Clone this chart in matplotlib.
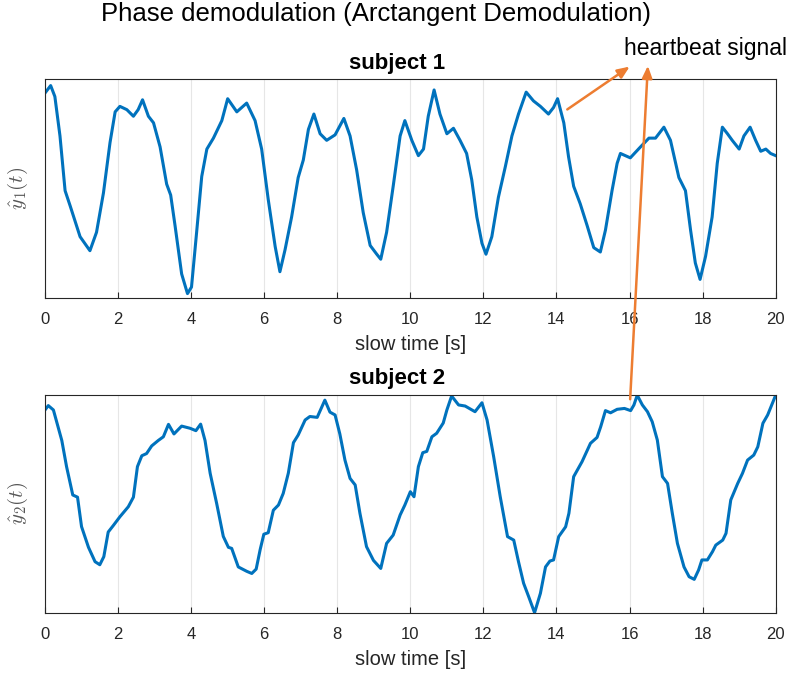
import matplotlib
matplotlib.use('Agg')
import matplotlib.pyplot as plt
from matplotlib.patches import FancyArrowPatch

# subject 1, values (normalised amplitude)
t1 = [0, 0.155, 0.27, 0.41, 0.55, 0.69, 0.96, 1.23, 1.41, 1.6, 1.78, 1.92, 2.05, 2.24, 2.42,
      2.55, 2.67, 2.83, 2.97, 3.15, 3.33, 3.44, 3.56, 3.74, 3.9, 4.01, 4.15, 4.29, 4.43, 4.61,
      4.84, 5.0, 5.25, 5.52, 5.75, 5.93, 6.11, 6.3, 6.43, 6.57, 6.75, 6.93, 7.07, 7.21, 7.36,
      7.53, 7.71, 7.94, 8.18, 8.35, 8.53, 8.71, 8.9, 9.08, 9.19, 9.35, 9.53, 9.72, 9.85, 10.04,
      10.22, 10.36, 10.49, 10.65, 10.81, 11.0, 11.18, 11.36, 11.54, 11.68, 11.82, 11.96, 12.07,
      12.23, 12.41, 12.6, 12.78, 12.96, 13.17, 13.37, 13.56, 13.78, 13.92, 14.03, 14.2, 14.33,
      14.47, 14.65, 14.84, 15.02, 15.2, 15.34, 15.52, 15.66, 15.75, 16.02, 16.3, 16.53, 16.71,
      16.94, 17.12, 17.35, 17.53, 17.67, 17.8, 17.93, 18.08, 18.26, 18.4, 18.54, 18.68, 18.81,
      19.0, 19.13, 19.3, 19.45, 19.59, 19.73, 19.86, 20.0]
y1 = [0.936, 0.97, 0.92, 0.74, 0.49, 0.42, 0.28, 0.216, 0.30, 0.48, 0.71, 0.85, 0.875, 0.86, 0.83,
      0.86, 0.905, 0.83, 0.80, 0.69, 0.52, 0.47, 0.33, 0.11, 0.02, 0.05, 0.30, 0.555, 0.68, 0.73,
      0.81, 0.91, 0.85, 0.89, 0.81, 0.68, 0.45, 0.235, 0.12, 0.22, 0.37, 0.55, 0.63, 0.77, 0.84,
      0.75, 0.72, 0.745, 0.82, 0.74, 0.585, 0.39, 0.24, 0.20, 0.177, 0.30, 0.51, 0.74, 0.81, 0.72,
      0.65, 0.68, 0.83, 0.95, 0.84, 0.75, 0.775, 0.72, 0.66, 0.54, 0.37, 0.25, 0.20,
      0.28, 0.46, 0.60, 0.74, 0.84, 0.94, 0.90, 0.875, 0.84, 0.87, 0.91, 0.80, 0.645,
      0.51, 0.43, 0.33, 0.23, 0.21, 0.31, 0.49, 0.615, 0.66, 0.64, 0.69, 0.73, 0.73,
      0.78, 0.72, 0.55, 0.49, 0.31, 0.16, 0.085, 0.19, 0.37, 0.615, 0.78, 0.75, 0.72,
      0.68, 0.74, 0.78, 0.72, 0.67, 0.68, 0.66, 0.65]

# subject 2
t2 = [0, 0.09, 0.23, 0.46, 0.59, 0.76, 0.89, 1.0, 1.19, 1.37, 1.5, 1.61, 1.73, 1.87, 2.05,
      2.28, 2.42, 2.53, 2.65, 2.78, 2.92, 3.1, 3.24, 3.38, 3.53, 3.74, 3.97, 4.13, 4.26, 4.38,
      4.52, 4.7, 4.88, 5.02, 5.11, 5.29, 5.52, 5.66, 5.78, 5.89, 5.99, 6.11, 6.25, 6.39, 6.52,
      6.66, 6.8, 6.93, 7.12, 7.25, 7.45, 7.54, 7.66, 7.8, 7.94, 8.07, 8.21, 8.35, 8.49, 8.62,
      8.8, 8.99, 9.19, 9.35, 9.53, 9.72, 9.85, 10.0, 10.1, 10.22, 10.34, 10.45, 10.59, 10.72,
      10.9, 11.0, 11.13, 11.32, 11.5, 11.77, 11.96, 12.1, 12.28, 12.46, 12.66, 12.83, 12.96,
      13.1, 13.24, 13.4, 13.56, 13.7, 13.82, 13.92, 14.06, 14.25, 14.34, 14.47, 14.7, 14.93,
      15.11, 15.21, 15.34, 15.48, 15.66, 15.86, 16.03, 16.12, 16.21, 16.35, 16.49, 16.62,
      16.76, 16.9, 17.04, 17.17, 17.31, 17.49, 17.63, 17.77, 17.89, 17.98, 18.13, 18.27,
      18.36, 18.55, 18.64, 18.77, 18.96, 19.09, 19.23, 19.4, 19.51, 19.65, 19.78, 20.0]
y2 = [0.93, 0.95, 0.93, 0.79, 0.67, 0.54, 0.53, 0.395, 0.30, 0.234, 0.22, 0.257, 0.37, 0.40, 0.44,
      0.486, 0.53, 0.67, 0.72, 0.73, 0.765, 0.79, 0.807, 0.864, 0.82, 0.856, 0.846, 0.835, 0.865, 0.79,
      0.64, 0.50, 0.35, 0.30, 0.295, 0.21, 0.19, 0.18, 0.20, 0.29, 0.36, 0.367, 0.47, 0.494, 0.547,
      0.64, 0.78, 0.815, 0.884, 0.90, 0.896, 0.93, 0.975, 0.92, 0.907, 0.82, 0.70, 0.616, 0.586, 0.456,
      0.303, 0.24, 0.203, 0.318, 0.356, 0.448, 0.494, 0.555, 0.532, 0.67, 0.734, 0.74, 0.807, 0.823,
      0.87, 0.93, 0.994, 0.953, 0.948, 0.922, 0.963, 0.884, 0.716, 0.532, 0.349, 0.333, 0.234,
      0.135, 0.073, 0.0, 0.089, 0.21, 0.237, 0.242, 0.349, 0.394, 0.456, 0.624, 0.693, 0.777,
      0.804, 0.853, 0.927, 0.917, 0.933, 0.937, 0.927, 0.953, 0.998, 0.953, 0.922, 0.876,
      0.792, 0.624, 0.593, 0.456, 0.318, 0.21, 0.165, 0.153, 0.196, 0.242, 0.242, 0.28,
      0.31, 0.333, 0.364, 0.517, 0.593, 0.639, 0.70, 0.723, 0.761, 0.869, 0.907, 0.998]

xticks = [0, 2, 4, 6, 8, 10, 12, 14, 16, 18, 20]

plt.rcParams['font.family'] = ['Liberation Sans', 'DejaVu Sans']
plt.rcParams['mathtext.fontset'] = 'cm'

fig = plt.figure(figsize=(7.92, 6.77), dpi=100)
W, H = 792.0, 677.0

def make_axes(top_px, bot_px):
    return fig.add_axes([45 / W, 1 - bot_px / H, (775.7 - 45) / W, (bot_px - top_px) / H])

ax1 = make_axes(79, 298)
ax2 = make_axes(394.7, 612.7)

for ax, t, y, name, lab in [(ax1, t1, y1, 'subject 1', r'$\hat{y}_1(t)$'),
                            (ax2, t2, y2, 'subject 2', r'$\hat{y}_2(t)$')]:
    ax.plot(t, y, color='#0072BD', lw=2.2, solid_joinstyle='round')
    ax.set_xlim(0, 20)
    ax.set_ylim(0, 1)
    ax.set_xticks(xticks)
    ax.set_yticks([])
    ax.grid(axis='x', color='#e6e6e6', lw=0.8)
    ax.tick_params(axis='x', direction='in', length=4, color='#262626',
                   labelsize=12, labelcolor='#262626', pad=10)
    for s in ax.spines.values():
        s.set_color('#262626')
        s.set_linewidth(0.8)
    ax.set_xlabel('slow time [s]', fontsize=14.5, color='#262626', labelpad=6)
    ax.set_ylabel(lab, fontsize=15, color='#555555', labelpad=11)
    ax.text(0.482, 1.025, name, transform=ax.transAxes, ha='center', va='bottom',
            fontsize=16, fontweight='bold')

fig.text(376 / W, 1 - 14 / H, 'Phase demodulation (Arctangent Demodulation)',
         ha='center', va='center', fontsize=18.5)
fig.text(706 / W, 1 - 48 / H, 'heartbeat signal', ha='center', va='center', fontsize=16.5)

# orange arrows pointing at the label
orange = '#ED7D31'
style = '-|>,head_length=0.6,head_width=0.25'
for start, end in [((565, 111), (632, 65)), ((630, 402), (648, 63))]:
    fig.add_artist(FancyArrowPatch(
        (start[0] / W, 1 - start[1] / H), (end[0] / W, 1 - end[1] / H),
        transform=fig.transFigure, arrowstyle=style, color=orange, lw=1.8,
        mutation_scale=12))

fig.savefig('out.png', dpi=100)
